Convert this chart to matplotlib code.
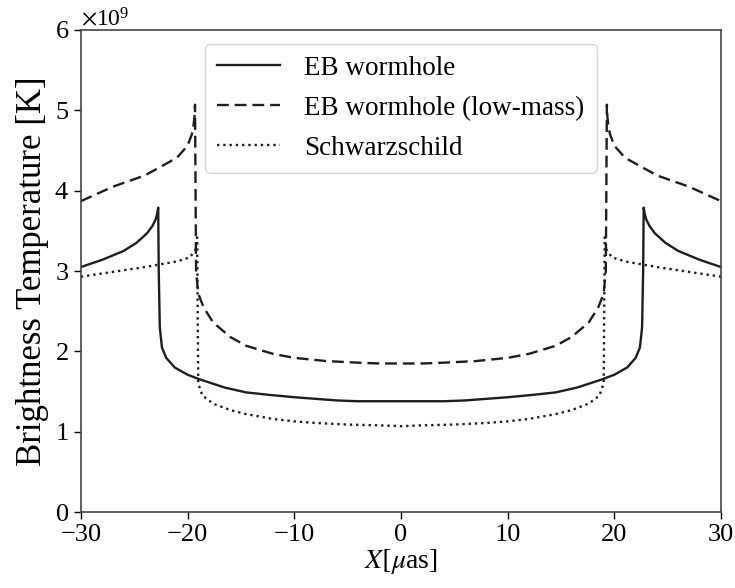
import matplotlib
matplotlib.use("Agg")
import matplotlib.pyplot as plt
from matplotlib.ticker import ScalarFormatter

plt.rcParams["font.family"] = ["Liberation Serif", "DejaVu Serif"]
plt.rcParams["mathtext.fontset"] = "stix"

# brightness temperature in units of 1e9 K, X in micro-arcsec
eb_x = [-30, -28, -26, -24.8, -23.8, -23.3, -23.0, -22.85, -22.75, -22.7, -22.6, -22.4,
        -22.0, -21.2, -20.0, -18.8, -16.5, -14.5, -12.4, -10, -8, -6, -4, -2, 0,
        2, 4, 6, 8, 10, 12.4, 14.5, 16.5, 18.8, 20.0, 21.2, 22.0, 22.4, 22.6, 22.7,
        22.75, 22.85, 23.0, 23.3, 23.8, 24.8, 26, 28, 30]
eb_y = [3.05, 3.14, 3.25, 3.35, 3.47, 3.56, 3.64, 3.71, 3.79, 3.0, 2.3, 2.05,
        1.92, 1.80, 1.71, 1.65, 1.55, 1.49, 1.46, 1.43, 1.41, 1.39, 1.38, 1.38, 1.38,
        1.38, 1.38, 1.39, 1.41, 1.43, 1.46, 1.49, 1.55, 1.65, 1.71, 1.80, 1.92, 2.05, 2.3, 3.0,
        3.79, 3.71, 3.64, 3.56, 3.47, 3.35, 3.25, 3.14, 3.05]

low_x = [-30, -27, -24, -21, -20, -19.6, -19.45, -19.35, -19.3, -19.25, -19.2, -19.0,
         -18.5, -17.6, -16, -14.5, -12, -10, -7, -4, -2, 0,
         2, 4, 7, 10, 12, 14.5, 16, 17.6, 18.5, 19.0, 19.2, 19.25, 19.3, 19.35,
         19.45, 19.6, 20, 21, 24, 27, 30]
low_y = [3.87, 4.05, 4.19, 4.41, 4.56, 4.70, 4.80, 4.92, 5.07, 4.0, 3.0, 2.72,
         2.55, 2.36, 2.18, 2.07, 1.97, 1.92, 1.88, 1.86, 1.85, 1.85,
         1.85, 1.86, 1.88, 1.92, 1.97, 2.07, 2.18, 2.36, 2.55, 2.72, 3.0, 4.0, 5.07, 4.92,
         4.80, 4.70, 4.56, 4.41, 4.19, 4.05, 3.87]

schw_x = [-30, -27, -24, -21, -19.8, -19.3, -19.1, -19.05, -19.0, -18.6, -17.6, -16,
          -14.5, -12, -10, -8, -5, -2, 0,
          2, 5, 8, 10, 12, 14.5, 16, 17.6, 18.6, 19.0, 19.05, 19.1, 19.3, 19.8,
          21, 24, 27, 30]
schw_y = [2.93, 2.99, 3.05, 3.12, 3.17, 3.25, 3.42, 2.5, 1.6, 1.45, 1.35, 1.27,
          1.22, 1.16, 1.13, 1.11, 1.09, 1.08, 1.07,
          1.08, 1.09, 1.11, 1.13, 1.16, 1.22, 1.27, 1.35, 1.45, 1.6, 2.5, 3.42, 3.25, 3.17,
          3.12, 3.05, 2.99, 2.93]

fig = plt.figure(figsize=(7.35, 5.88), dpi=100)
ax = fig.add_axes([0.110, 0.129, 0.871, 0.820])

lc = "#1e1e1e"
ax.plot(eb_x, [v * 1e9 for v in eb_y], color=lc, linewidth=1.7, linestyle="-",
        label="EB wormhole")
ax.plot(low_x, [v * 1e9 for v in low_y], color=lc, linewidth=1.7, linestyle="--",
        dashes=(5, 2.5), label="EB wormhole (low-mass)")
ax.plot(schw_x, [v * 1e9 for v in schw_y], color=lc, linewidth=1.7, linestyle=":",
        label="Schwarzschild")

ax.set_xlim(-30, 30)
ax.set_ylim(0, 6e9)
ax.set_xticks([-30, -20, -10, 0, 10, 20, 30])
ax.set_yticks([0, 1e9, 2e9, 3e9, 4e9, 5e9, 6e9])

fmt = ScalarFormatter(useMathText=True)
fmt.set_powerlimits((0, 0))
ax.yaxis.set_major_formatter(fmt)
ax.yaxis.get_offset_text().set_fontsize(17)

ax.tick_params(labelsize=19, width=1.0, length=5)
for s in ax.spines.values():
    s.set_color("#444444")
    s.set_linewidth(1.2)

ax.set_xlabel(r"$X[\mu$as]", fontsize=20, labelpad=1)
ax.set_ylabel("Brightness Temperature [K]", fontsize=25, labelpad=4)

ax.legend(loc="upper center", fontsize=19.5, handlelength=2.3, labelspacing=0.55,
          borderaxespad=0.5, handletextpad=0.9, borderpad=0.45)

fig.savefig("out.png", dpi=100)
